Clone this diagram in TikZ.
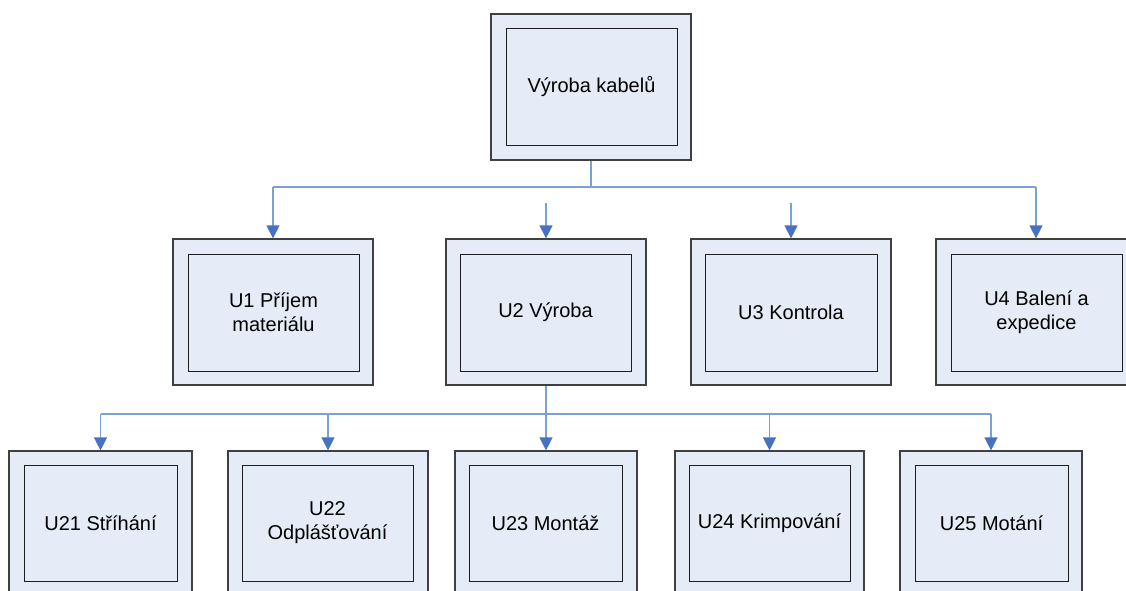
\documentclass[tikz,border=0pt]{standalone}
\usepackage{fontspec}
\setmainfont{Liberation Sans}
\usetikzlibrary{arrows.meta}
\definecolor{boxfill}{RGB}{230,236,247}
\definecolor{outerline}{RGB}{64,64,64}
\definecolor{innerline}{RGB}{30,30,30}
\definecolor{linkline}{RGB}{122,160,214}
\definecolor{linkhead}{RGB}{70,114,196}
\begin{document}
\begin{tikzpicture}[x=1pt,y=-1pt,
  outerbox/.style={draw=outerline,line width=1.2pt,fill=boxfill,inner sep=0pt},
  innerbox/.style={draw=innerline,line width=1pt,fill=boxfill,inner sep=0pt,
    align=center,font=\fontsize{20}{24}\selectfont},
  link/.style={draw=linkline,line width=1.3pt},
  arrowlink/.style={link,-{Triangle[width=13pt,length=13pt,color=linkhead]}}]
\useasboundingbox (0,0) rectangle (1126,590);

% top level
\node[outerbox,minimum width=200pt,minimum height=146pt] (top) at (591,87) {};
\node[innerbox,minimum width=171pt,minimum height=117pt] (top-in) at (591.5,86.5) {Výroba kabelů};

% second level
\node[outerbox,minimum width=200pt,minimum height=146pt] (u1) at (273,312) {};
\node[innerbox,minimum width=171pt,minimum height=117pt] (u1-in) at (273.5,312.5) {U1 Příjem\\materiálu};
\node[outerbox,minimum width=200pt,minimum height=146pt] (u2) at (546,312) {};
\node[innerbox,minimum width=171pt,minimum height=117pt] (u2-in) at (545.5,312.5) {U2 Výroba};
\node[outerbox,minimum width=200pt,minimum height=146pt] (u3) at (791,312) {};
\node[innerbox,minimum width=172pt,minimum height=117pt] (u3-in) at (791,312.5) {U3 Kontrola};
\node[outerbox,minimum width=200pt,minimum height=146pt] (u4) at (1036,312) {};
\node[innerbox,minimum width=171pt,minimum height=117pt] (u4-in) at (1036.5,312.5) {U4 Balení a\\expedice};

% third level
\node[outerbox,minimum width=183pt,minimum height=144pt] (u21) at (100.5,523) {};
\node[innerbox,minimum width=153pt,minimum height=116pt] (u21-in) at (100.5,523) {U21 Stříhání};
\node[outerbox,minimum width=200pt,minimum height=144pt] (u22) at (328,523) {};
\node[innerbox,minimum width=171pt,minimum height=116pt] (u22-in) at (327.5,523) {U22\\Odplášťování};
\node[outerbox,minimum width=182pt,minimum height=144pt] (u23) at (546,523) {};
\node[innerbox,minimum width=153pt,minimum height=116pt] (u23-in) at (545.5,523) {U23 Montáž};
\node[outerbox,minimum width=189pt,minimum height=144pt] (u24) at (769.5,523) {};
\node[innerbox,minimum width=161pt,minimum height=116pt] (u24-in) at (769.5,523) {U24 Krimpování};
\node[outerbox,minimum width=182pt,minimum height=144pt] (u25) at (991,523) {};
\node[innerbox,minimum width=153pt,minimum height=116pt] (u25-in) at (991.5,523) {U25 Motání};

% connectors from the top box
\coordinate (hub) at (591,187);
\coordinate (r1) at (u1.north |- hub);
\coordinate (r4) at (u4.north |- hub);
\coordinate (s2) at (u2.north |- 0,203);
\coordinate (s3) at (u3.north |- 0,203);
\draw[link] (top.south) -- (hub);
\draw[link] (r1) -- (r4);
\draw[arrowlink] (r1) -- (u1.north);
\draw[arrowlink] (s2) -- (u2.north);
\draw[arrowlink] (s3) -- (u3.north);
\draw[arrowlink] (r4) -- (u4.north);

% connectors from U2
\coordinate (bus) at (546,414);
\coordinate (b21) at (u21.north |- bus);
\coordinate (b22) at (u22.north |- bus);
\coordinate (b24) at (u24.north |- bus);
\coordinate (b25) at (u25.north |- bus);
\draw[link] (b21) -- (b25);
\draw[arrowlink] (u2.south) -- (u23.north);
\draw[arrowlink] (b21) -- (u21.north);
\draw[arrowlink] (b22) -- (u22.north);
\draw[arrowlink] (b24) -- (u24.north);
\draw[arrowlink] (b25) -- (u25.north);
\end{tikzpicture}
\end{document}
